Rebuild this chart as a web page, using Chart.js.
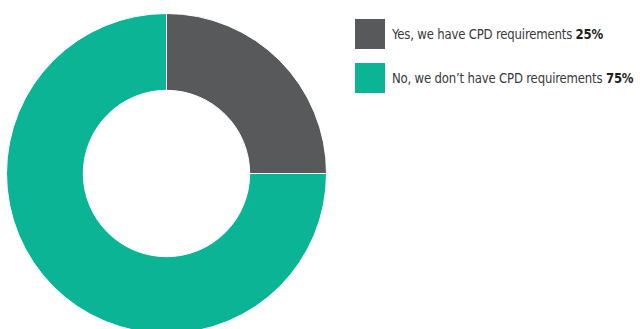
<!DOCTYPE html>
<html>
<head>
<meta charset="utf-8">
<script src="https://cdn.jsdelivr.net/npm/chart.js@4"></script>
<style>
  html, body { margin: 0; padding: 0; width: 640px; height: 329px; overflow: hidden; background: #fff; }
  #chartBox { position: absolute; left: 6px; top: 13px; width: 321px; height: 321px; }
  #legend { position: absolute; left: 355px; top: 19px; font-family: "DejaVu Sans", sans-serif; font-stretch: condensed; font-size: 14px; color: #3a3a3c; white-space: nowrap; }
  .item { display: flex; align-items: center; height: 30px; margin-bottom: 14px; }
  .swatch { width: 30px; height: 30px; margin-right: 7px; flex: none; }
  .item span { display: inline-block; transform: scaleX(0.93); transform-origin: left center; letter-spacing: -0.2px; }
  .item b { font-weight: bold; color: #231f20; }
</style>
</head>
<body>
<div id="chartBox"><canvas id="donut"></canvas></div>
<div id="legend"></div>
<script>
// chart data
const labels = ["Yes, we have CPD requirements", "No, we don\u2019t have CPD requirements"];
const values = [25, 75];
const colors = ["#58595b", "#0bb495"];

const ctx = document.getElementById('donut').getContext('2d');
new Chart(ctx, {
  type: 'doughnut',
  data: {
    labels: labels,
    datasets: [{
      data: values,
      backgroundColor: colors,
      borderColor: '#ffffff',
      borderWidth: 1,
    }],
  },
  options: {
    responsive: true,
    maintainAspectRatio: false,
    animation: false,
    cutout: '52%',
    layout: { padding: 0 },
    plugins: {
      legend: { display: false },
      tooltip: { enabled: false },
    },
  },
});

// legend on the right, built from the same arrays
const legendEl = document.getElementById('legend');
labels.forEach((lab, i) => {
  const row = document.createElement('div');
  row.className = 'item';
  const sw = document.createElement('div');
  sw.className = 'swatch';
  sw.style.background = colors[i];
  const txt = document.createElement('span');
  txt.textContent = lab + ' ';
  const pct = document.createElement('b');
  pct.textContent = values[i] + '%';
  txt.appendChild(pct);
  row.appendChild(sw);
  row.appendChild(txt);
  legendEl.appendChild(row);
});
</script>
</body>
</html>
